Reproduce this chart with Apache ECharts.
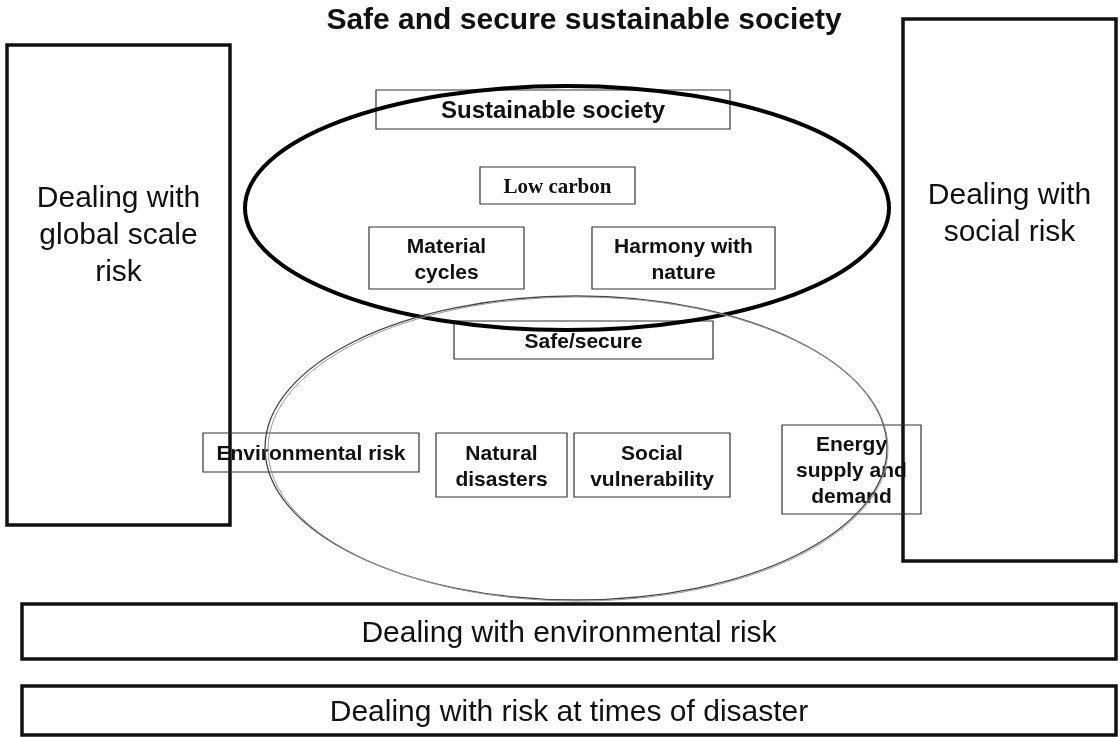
<!DOCTYPE html>
<html>
<head>
<meta charset="utf-8">
<script src="https://cdn.jsdelivr.net/npm/echarts@6/dist/echarts.min.js"></script>
<style>
  html, body { margin: 0; padding: 0; background: #fff; }
  #graphics { width: 1120px; height: 737px; }
</style>
</head>
<body>
<div id="graphics"></div>
<script>
// diagram title
var title = 'Safe and secure sustainable society';

// big frames round the diagram (x0, y0, x1, y1 in diagram units)
var frameLabels = [
  'Dealing with\nglobal scale\nrisk',
  'Dealing with\nsocial risk',
  'Dealing with environmental risk',
  'Dealing with risk at times of disaster'
];
var frameBoxes = [
  [7, 45, 230, 525],
  [903, 19, 1116, 561],
  [22, 604, 1116, 659],
  [22, 686, 1116, 735]
];
// where the frame's text block is centred (y)
var frameTextY = [236, 214, 634, 713];

// small labelled boxes inside the two ellipses
var nodeLabels = [
  'Sustainable society',
  'Low carbon',
  'Material\ncycles',
  'Harmony with\nnature',
  'Safe/secure',
  'Environmental risk',
  'Natural\ndisasters',
  'Social\nvulnerability',
  'Energy\nsupply and\ndemand'
];
var nodeBoxes = [
  [376, 90, 730, 129],
  [480, 167, 635, 204],
  [369, 227, 524, 289],
  [592, 227, 775, 289],
  [454, 321, 713, 359],
  [203, 433, 419, 472],
  [436, 433, 567, 497],
  [574, 433, 730, 497],
  [782, 425, 921, 514]
];

// ellipses: cx, cy, rx, ry
var rings = [
  [567, 208, 322, 122],
  [576, 448, 311, 152]
];

var myChart = echarts.init(document.getElementById('graphics'));

function boxItem(api, lw, stroke, font, lh, textY) {
  var p0 = api.coord([api.value(0), api.value(1)]);
  var p1 = api.coord([api.value(2), api.value(3)]);
  var label = api.value(4);
  var ty = textY != null ? api.coord([0, textY])[1] : (p0[1] + p1[1]) / 2 + 2;
  return {
    type: 'group',
    children: [
      {
        type: 'rect',
        shape: { x: p0[0], y: p0[1], width: p1[0] - p0[0], height: p1[1] - p0[1] },
        style: { fill: 'none', stroke: stroke, lineWidth: lw }
      },
      {
        type: 'text',
        style: {
          text: label,
          x: (p0[0] + p1[0]) / 2,
          y: ty,
          align: 'center',
          verticalAlign: 'middle',
          font: font,
          lineHeight: lh,
          fill: '#111'
        }
      }
    ]
  };
}

var option = {
  animation: false,
  backgroundColor: '#fff',
  title: {
    text: title,
    left: 579,
    textAlign: 'center',
    top: 1,
    textStyle: { fontFamily: '"Liberation Sans", Arial', fontWeight: 'bold', fontSize: 30, color: '#111' }
  },
  grid: { left: 0, right: 0, top: 0, bottom: 0 },
  xAxis: { type: 'value', min: 0, max: 1120, show: false },
  yAxis: { type: 'value', min: 0, max: 737, inverse: true, show: false },
  series: [
    {
      type: 'custom',
      name: 'frames',
      data: frameBoxes.map(function (b, i) { return b.concat([frameLabels[i]]); }),
      renderItem: function (params, api) {
        return boxItem(api, 3.5, '#111', '30px "Liberation Sans", Arial', 37, frameTextY[params.dataIndex]);
      },
      silent: true,
      z: 2
    },
    {
      type: 'custom',
      name: 'nodes',
      data: nodeBoxes.map(function (b, i) { return b.concat([nodeLabels[i]]); }),
      renderItem: function (params, api) {
        var i = params.dataIndex;
        var font = 'bold 21px "Liberation Sans", Arial';
        if (i === 0) font = 'bold 24px "Liberation Sans", Arial';
        if (i === 1) font = 'bold 21px "Liberation Serif", "Times New Roman", serif';
        return boxItem(api, 1.2, '#333', font, 26);
      },
      silent: true,
      z: 3
    },
    {
      type: 'custom',
      name: 'rings',
      data: rings,
      renderItem: function (params, api) {
        var c = api.coord([api.value(0), api.value(1)]);
        var e = api.coord([api.value(0) + api.value(2), api.value(1) + api.value(3)]);
        var rx = e[0] - c[0], ry = e[1] - c[1];
        if (params.dataIndex === 0) {
          return {
            type: 'ellipse',
            shape: { cx: c[0], cy: c[1], rx: rx, ry: ry },
            style: { fill: 'none', stroke: '#000', lineWidth: 4 }
          };
        }
        // the lower ring is drawn as a thin doubled grey line
        return {
          type: 'group',
          children: [
            { type: 'ellipse', shape: { cx: c[0], cy: c[1], rx: rx, ry: ry },
              style: { fill: 'none', stroke: '#444', lineWidth: 1.3 } },
            { type: 'ellipse', shape: { cx: c[0] + 2, cy: c[1] + 1, rx: rx - 1, ry: ry },
              style: { fill: 'none', stroke: '#999', lineWidth: 1 } }
          ]
        };
      },
      silent: true,
      z: 4
    }
  ]
};

myChart.setOption(option);
</script>
</body>
</html>
